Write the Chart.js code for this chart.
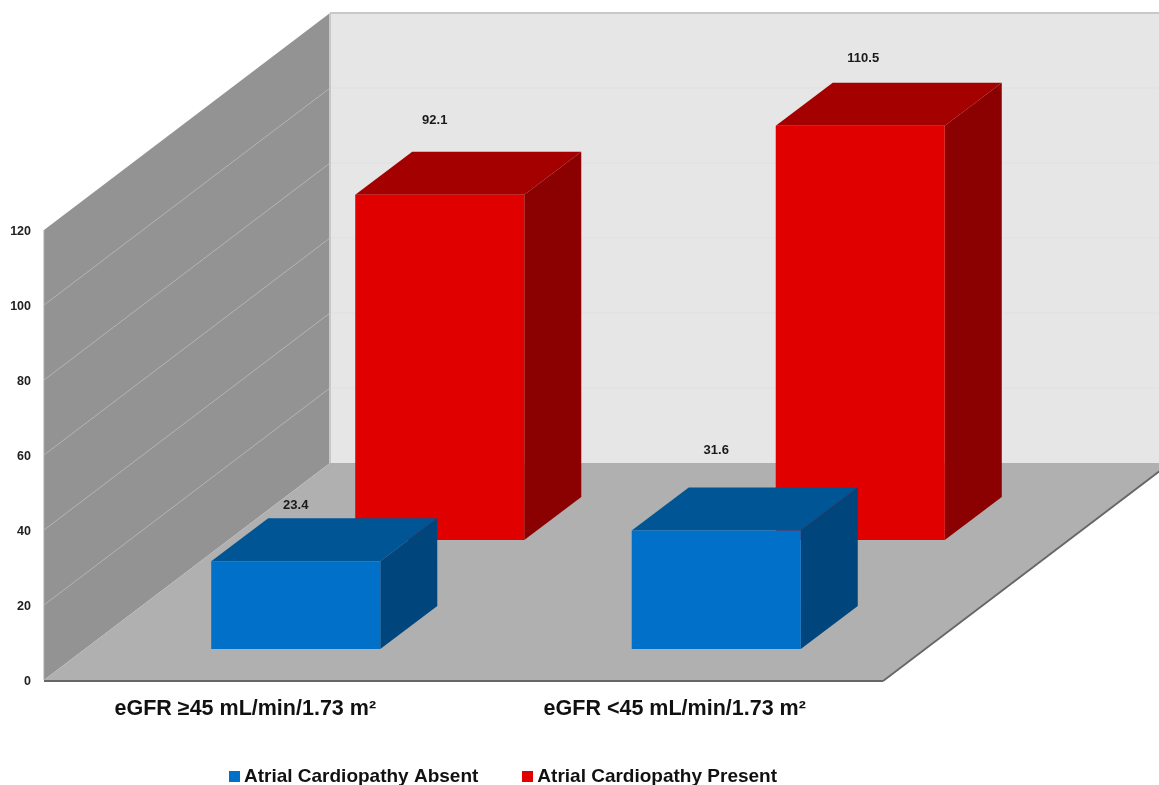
<!DOCTYPE html>
<html>
<head>
<meta charset="utf-8">
<title>Atrial cardiopathy by eGFR</title>
<script src="https://cdn.jsdelivr.net/npm/chart.js@4/dist/chart.umd.min.js"></script>
<style>
    html, body { margin: 0; padding: 0; background: #fff; overflow: hidden; }
    canvas { display: block; }
</style>
</head>
<body>
<canvas id="chart" width="1159" height="785"></canvas>
<script>
    // Chart values
    const categories = ['eGFR ≥45 mL/min/1.73 m²   ', 'eGFR <45 mL/min/1.73 m²'];
    const seriesNames = ['Atrial Cardiopathy Absent', 'Atrial Cardiopathy Present'];
    const absentValues = [23.4, 31.6];
    const presentValues = [92.1, 110.5];

    // Box colours per series: front, top, side
    const faceColors = [
        { front: '#0070c8', top: '#005594', side: '#00457b' },
        { front: '#e00000', top: '#a50000', side: '#8b0000' }
    ];

    // Projection of the depth axis, in pixels
    const floorDepth = { x: 286, y: -217 };
    const floorInset = 2;
    const rowDepth = [{ x: 41.5, y: -31 }, { x: 185.5, y: -140 }];
    const boxDepth = { x: 57, y: -43 };
    const labelRise = [[56, 80], [74, 67]];
    const labelShift = [[0, 0], [-5, 3]];

    function fillPoly(ctx, color, pts) {
        ctx.fillStyle = color;
        ctx.beginPath();
        pts.forEach((p, i) => i ? ctx.lineTo(p[0], p[1]) : ctx.moveTo(p[0], p[1]));
        ctx.closePath();
        ctx.fill();
    }

    function strokeLine(ctx, color, width, a, b) {
        ctx.strokeStyle = color;
        ctx.lineWidth = width;
        ctx.beginPath();
        ctx.moveTo(a[0], a[1]);
        ctx.lineTo(b[0], b[1]);
        ctx.stroke();
    }

    // Swatch used as the legend marker
    function swatch(color) {
        const c = document.createElement('canvas');
        c.width = 11;
        c.height = 11;
        const g = c.getContext('2d');
        g.fillStyle = color;
        g.fillRect(0, 0, 11, 11);
        return c;
    }

    // Walls and floor, drawn before the axes
    const roomPlugin = {
        id: 'room',
        beforeDraw(chart) {
            const { ctx, scales: { y }, chartArea: { left } } = chart;
            const right = chart.chartArea.right - floorInset;
            const y0 = y.getPixelForValue(0);
            const yMax = y.getPixelForValue(120);
            const dx = floorDepth.x;
            const dy = floorDepth.y;
            ctx.save();

            fillPoly(ctx, '#e6e6e6', [[left + dx, yMax + dy], [right + dx, yMax + dy], [right + dx, y0 + dy], [left + dx, y0 + dy]]);
            fillPoly(ctx, '#939393', [[left, yMax], [left + dx, yMax + dy], [left + dx, y0 + dy], [left, y0]]);
            fillPoly(ctx, '#b0b0b0', [[left, y0], [left + dx, y0 + dy], [right + dx, y0 + dy], [right, y0]]);

            // grid lines along the side wall and the back wall
            y.ticks.forEach(t => {
                if (t.value === 0 || t.value === 120) return;
                const py = y.getPixelForValue(t.value);
                strokeLine(ctx, '#b4b4b4', 1, [left, py], [left + dx, py + dy]);
                strokeLine(ctx, '#e0e0e0', 1, [left + dx, py + dy], [right + dx, py + dy]);
            });

            strokeLine(ctx, '#c8c8c8', 2, [left + dx, yMax + dy], [right + dx, yMax + dy]);
            strokeLine(ctx, '#c8c8c8', 2, [left + dx, yMax + dy], [left + dx, y0 + dy]);
            strokeLine(ctx, '#a8a8a8', 1, [left, yMax], [left, y0]);
            strokeLine(ctx, '#666666', 2, [left, y0 + 1], [right, y0 + 1]);
            strokeLine(ctx, '#666666', 2, [right, y0 + 1], [right + dx, y0 + dy + 1]);
            ctx.restore();
        }
    };

    // Pushes each series back along the depth axis and adds the top and side faces
    const boxPlugin = {
        id: 'box',
        beforeDatasetDraw(chart, args) {
            const { ctx } = chart;
            const shift = rowDepth[args.index];
            const faces = faceColors[args.index];
            ctx.save();
            ctx.translate(shift.x, shift.y);
            args.meta.data.forEach(bar => {
                const l = bar.x - bar.width / 2;
                const r = bar.x + bar.width / 2;
                fillPoly(ctx, faces.top, [[l, bar.y], [l + boxDepth.x, bar.y + boxDepth.y], [r + boxDepth.x, bar.y + boxDepth.y], [r, bar.y]]);
                fillPoly(ctx, faces.side, [[r, bar.y], [r + boxDepth.x, bar.y + boxDepth.y], [r + boxDepth.x, bar.base + boxDepth.y], [r, bar.base]]);
            });
        },
        afterDatasetDraw(chart) {
            chart.ctx.restore();
        },
        afterDatasetsDraw(chart) {
            const { ctx } = chart;
            ctx.save();
            ctx.font = 'bold 13px "Liberation Sans"';
            ctx.fillStyle = '#1a1a1a';
            ctx.textAlign = 'center';
            ctx.textBaseline = 'middle';
            chart.data.datasets.forEach((ds, i) => {
                chart.getDatasetMeta(i).data.forEach((bar, j) => {
                    ctx.fillText(ds.data[j].toFixed(1), bar.x + rowDepth[i].x + labelShift[i][j], bar.y + rowDepth[i].y - labelRise[i][j]);
                });
            });
            ctx.restore();
        }
    };

    // Legend sits right of the plot centre, at the bottom edge; x labels may run past their box
    const placementPlugin = {
        id: 'placement',
        afterLayout(chart) {
            const legend = chart.legend;
            const moveX = 63;
            const moveY = 11;
            legend.left += moveX;
            legend.right += moveX;
            legend.top += moveY;
            legend.bottom += moveY;
            chart.scales.x.bottom += 30;
        }
    };

    new Chart(document.getElementById('chart').getContext('2d'), {
        type: 'bar',
        data: {
            labels: categories,
            datasets: [
                { label: seriesNames[0], data: absentValues, backgroundColor: faceColors[0].front },
                { label: seriesNames[1], data: presentValues, backgroundColor: faceColors[1].front }
            ]
        },
        options: {
            responsive: false,
            animation: false,
            clip: false,
            grouped: false,
            categoryPercentage: 0.402,
            barPercentage: 1,
            borderWidth: 0,
            layout: { padding: { top: 230, right: 274, left: 0, bottom: 0 } },
            scales: {
                x: {
                    grid: { display: false },
                    border: { display: false },
                    ticks: {
                        padding: 8,
                        maxRotation: 0,
                        color: '#111111',
                        font: { family: '"Liberation Sans"', size: 21.5, weight: 'bold' }
                    },
                    afterFit(scale) {
                        scale.height = 27;
                        scale.paddingLeft = 0;
                        scale.paddingRight = 0;
                    }
                },
                y: {
                    min: 0,
                    max: 120,
                    grid: { display: false },
                    border: { display: false },
                    ticks: {
                        stepSize: 20,
                        padding: 5,
                        labelOffset: 2,
                        color: '#222222',
                        font: { family: '"Liberation Sans"', size: 12.5, weight: 'bold' }
                    },
                    afterFit(scale) {
                        scale.width = 44;
                        scale.paddingTop = 0;
                        scale.paddingBottom = 0;
                    }
                }
            },
            plugins: {
                tooltip: { enabled: false },
                legend: {
                    position: 'bottom',
                    labels: {
                        usePointStyle: true,
                        pointStyleWidth: 0.5,
                        padding: 49,
                        color: '#111111',
                        font: { family: '"Liberation Sans"', size: 19, weight: 'bold' },
                        generateLabels(chart) {
                            return chart.data.datasets.map((ds, i) => ({
                                text: ds.label,
                                datasetIndex: i,
                                fontColor: '#111111',
                                pointStyle: swatch(ds.backgroundColor),
                                lineWidth: 0
                            }));
                        }
                    }
                }
            }
        },
        plugins: [roomPlugin, boxPlugin, placementPlugin]
    });
</script>
</body>
</html>
